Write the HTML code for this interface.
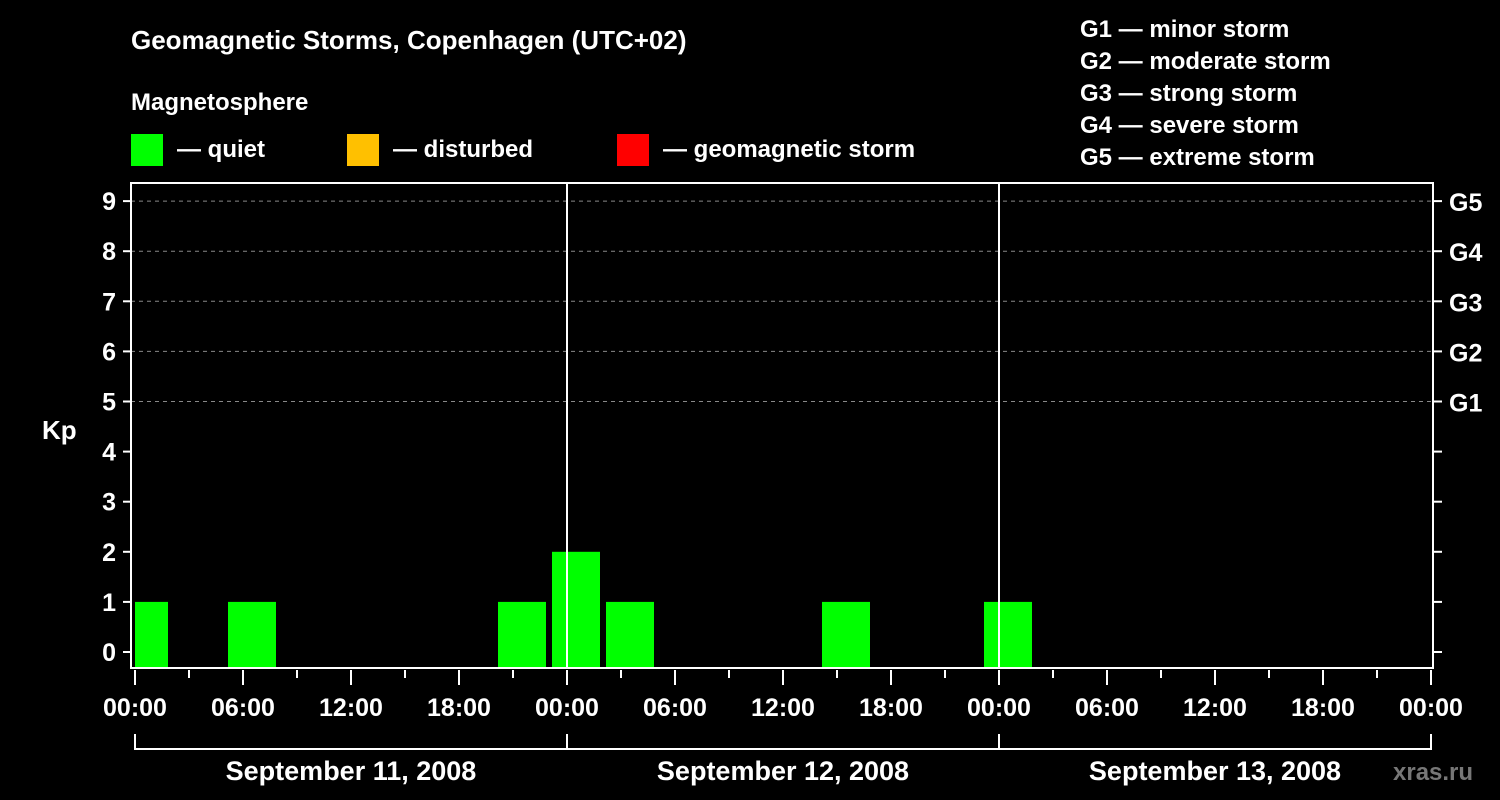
<!DOCTYPE html>
<html><head><meta charset="utf-8"><style>
body{margin:0;background:#000;}
svg{display:block;font-family:"Liberation Sans",Arial,sans-serif;font-weight:bold;}
</style></head><body>
<svg width="1500" height="800" viewBox="0 0 1500 800">
<rect width="1500" height="800" fill="#000"/>
<text x="131" y="49" fill="#fff" font-size="26">Geomagnetic Storms, Copenhagen (UTC+02)</text>
<text x="131" y="110" fill="#fff" font-size="24">Magnetosphere</text>
<g><rect x="131" y="134" width="32" height="32" fill="#00ff00"/><text x="177" y="157" fill="#fff" font-size="24">— quiet</text></g>
<g><rect x="347" y="134" width="32" height="32" fill="#ffc000"/><text x="393" y="157" fill="#fff" font-size="24">— disturbed</text></g>
<g><rect x="617" y="134" width="32" height="32" fill="#ff0000"/><text x="663" y="157" fill="#fff" font-size="24">— geomagnetic storm</text></g>
<g fill="#fff" font-size="24">
<text x="1080" y="37">G1 — minor storm</text>
<text x="1080" y="69">G2 — moderate storm</text>
<text x="1080" y="101">G3 — strong storm</text>
<text x="1080" y="133">G4 — severe storm</text>
<text x="1080" y="165">G5 — extreme storm</text>
</g>
<text x="42" y="439" fill="#fff" font-size="26">Kp</text>
<text x="1393" y="780" fill="#777" font-size="24">xras.ru</text>
<g id="plot"></g>
</svg>
<script>
const yTicks=[0,1,2,3,4,5,6,7,8,9];
const gLabels=["","","","","","G1","G2","G3","G4","G5"];
const xLabels=["00:00","06:00","12:00","18:00","00:00","06:00","12:00","18:00","00:00","06:00","12:00","18:00","00:00"];
const dayLabels=["September 11, 2008","September 12, 2008","September 13, 2008"];
const binStartHours=[-1,2,5,8,11,14,17,20,23,26,29,32,35,38,41,44,47];
const kpValues=[1,0,0,1,0,0,0,0,1,2,1,0,0,0,1,0,0];
const kpHours=[-1,5,20,23,26,38,47];
const kpVals=[1,1,1,2,1,1,1];
const NS="http://www.w3.org/2000/svg";
const g=document.getElementById('plot');
const L=131,R=1433,T=183,B=668;
const x=h=>135+h*18;
const y=v=>652-v*50.1;
function mk(t,a,p){const e=document.createElementNS(NS,t);for(const k in a)e.setAttribute(k,a[k]);(p||g).appendChild(e);return e;}
// grid
yTicks.forEach((v,i)=>{
 if(v>=5){const l=mk('line',{x1:L,x2:R,y1:y(v),y2:y(v),stroke:'#888','stroke-dasharray':'4,4','stroke-width':1});}
 const t1=mk('line',{x1:123,x2:L,y1:y(v),y2:y(v),stroke:'#fff','stroke-width':2});
 const t2=mk('line',{x1:R,x2:1442,y1:y(v),y2:y(v),stroke:'#fff','stroke-width':2});
 const tx=mk('text',{x:116,y:y(v)+9,fill:'#fff','font-size':25,'text-anchor':'end'});tx.textContent=v;
 if(gLabels[i]){const gt=mk('text',{x:1449,y:y(v)+10,fill:'#fff','font-size':25});gt.textContent=gLabels[i];}
});
// bars
kpHours.forEach((h,i)=>{
 const v=kpVals[i];
 const x0=Math.max(x(h),x(0)-3)+3, x1=Math.min(x(h+3),x(72))-3;
 const r=mk('rect',{x:x0,y:y(v),width:x1-x0,height:B-y(v),fill:v>=5?'#ff0000':(v>=4?'#ffc000':'#00ff00')});
 
});
// day separators
[24,48].forEach(h=>{const l=mk('line',{x1:x(h),x2:x(h),y1:T,y2:B,stroke:'#fff','stroke-width':2});});
// frame
const f=mk('rect',{x:L,y:T,width:R-L,height:B-T,fill:'none',stroke:'#fff','stroke-width':2});

// x ticks
for(let h=0;h<=72;h+=3){const big=h%6==0;const l=mk('line',{x1:x(h),x2:x(h),y1:B+2,y2:big?685:678,stroke:'#fff','stroke-width':2});}
xLabels.forEach((s,i)=>{const t=mk('text',{x:x(i*6),y:716,fill:'#fff','font-size':25,'text-anchor':'middle'});t.textContent=s;});
// day bracket
const bl=mk('line',{x1:x(0),x2:x(72),y1:749,y2:749,stroke:'#fff','stroke-width':2});
[0,24,48,72].forEach(h=>{const l=mk('line',{x1:x(h),x2:x(h),y1:734,y2:750,stroke:'#fff','stroke-width':2});});
dayLabels.forEach((s,i)=>{const t=mk('text',{x:x(i*24+12),y:780,fill:'#fff','font-size':27,'text-anchor':'middle'});t.textContent=s;});
</script>
</body></html>
